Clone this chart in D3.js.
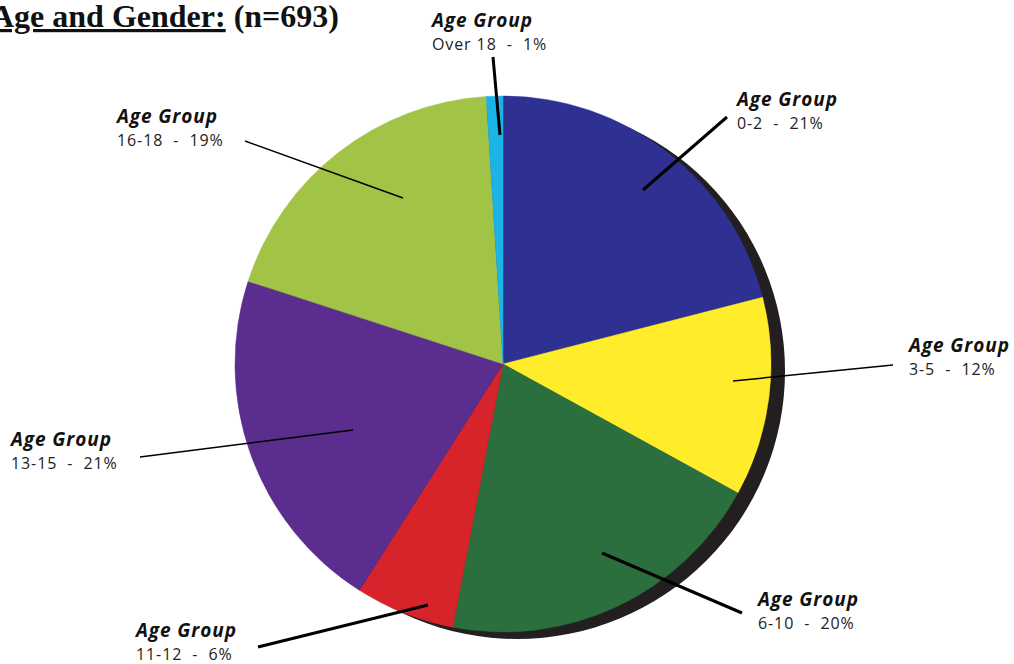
<!DOCTYPE html>
<html><head><meta charset="utf-8">
<script src="https://cdn.jsdelivr.net/npm/d3@7"></script>
<style>html,body{margin:0;padding:0;background:#fff;overflow:hidden}</style>
</head><body>
<script>
const categories = ["0-2", "3-5", "6-10", "11-12", "13-15", "16-18", "Over 18"];
const values = [21, 12, 20, 6, 21, 19, 1];
const colors = ["#2e3192", "#ffed2b", "#2a6f3d", "#d7242a", "#5b2d8e", "#a1c446", "#1cb3e6"];
const labelPos = [[737,106],[909,352],[758,606],[136,637],[11,446],[117,123],[432,27]];
const leaders = [[727,117,643,190,3],[893,365,733,381,1.5],[742,613,602,553,3],[258,647,428,605,3],[140,457,353,430,1.5],[245,141,403,198,1.5],[493,57,500,135,3]];

const W = 1014, H = 664;
const svg = d3.select("body").append("svg").attr("width", W).attr("height", H);
const cx = 503, cy = 364, r = 268;

const pie = d3.pie().sort(null).value(d => d.v);
const arcs = pie(categories.map((c, i) => ({c, v: values[i], col: colors[i]})));
const arc = d3.arc().innerRadius(0).outerRadius(r);

// shadow
svg.append("circle").attr("cx", cx + 14).attr("cy", cy + 7).attr("r", r).attr("fill", "#231f20");

const g = svg.append("g").attr("transform", `translate(${cx},${cy})`);
g.selectAll("path").data(arcs).join("path")
  .attr("d", arc).attr("fill", d => d.data.col)
  .attr("stroke", d => d.data.col).attr("stroke-width", 0.5);

// leaders
svg.selectAll("line.l").data(leaders).join("line").attr("class","l")
  .attr("x1", d => d[0]).attr("y1", d => d[1]).attr("x2", d => d[2]).attr("y2", d => d[3])
  .attr("stroke", "#000").attr("stroke-width", d => d[4]);

// labels
const lab = svg.selectAll("g.lab").data(categories).join("g").attr("class","lab")
  .attr("transform", (d, i) => `translate(${labelPos[i][0]},${labelPos[i][1]})`);
lab.append("text")
  .attr("font-family", "Open Sans").attr("font-weight", "bold").attr("font-style", "italic")
  .attr("font-size", 19).attr("letter-spacing", 0.9).attr("fill", "#111").text("Age Group");
lab.append("text").attr("y", 23)
  .attr("font-family", "Open Sans").attr("font-size", 16).attr("letter-spacing", 0.9).attr("fill", "#222")
  .attr("xml:space", "preserve").style("white-space", "pre")
  .text((d, i) => `${d}  -  ${values[i]}%`);

// title
const t = svg.append("text").attr("x", -9).attr("y", 27)
  .attr("font-family", "Liberation Serif").attr("font-weight", "bold").attr("font-size", 32).attr("fill", "#111");
t.append("tspan").attr("text-decoration", "underline").text("Age and Gender:");
t.append("tspan").text(" (n=693)");
</script>
</body></html>
